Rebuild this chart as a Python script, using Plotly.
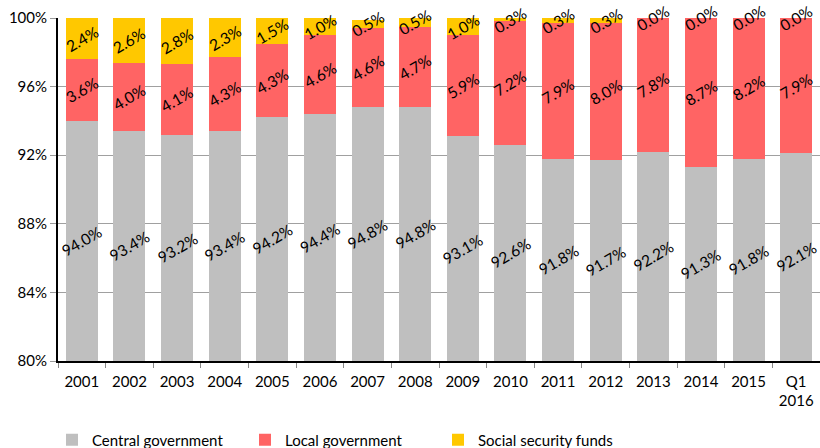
import plotly.graph_objects as go

# Shares of general government debt by sub-sector (%)
years = ["2001", "2002", "2003", "2004", "2005", "2006", "2007", "2008",
         "2009", "2010", "2011", "2012", "2013", "2014", "2015", "Q1<br>2016"]
central = [94.0, 93.4, 93.2, 93.4, 94.2, 94.4, 94.8, 94.8,
           93.1, 92.6, 91.8, 91.7, 92.2, 91.3, 91.8, 92.1]
local = [3.6, 4.0, 4.1, 4.3, 4.3, 4.6, 4.6, 4.7,
         5.9, 7.2, 7.9, 8.0, 7.8, 8.7, 8.2, 7.9]
social = [2.4, 2.6, 2.8, 2.3, 1.5, 1.0, 0.5, 0.5,
          1.0, 0.3, 0.3, 0.3, 0.0, 0.0, 0.0, 0.0]

y_min, y_max = 80, 100
FONT = "Lato, Carlito, Calibri, sans-serif"

series = [
    ("Central government", central, "#BFBFBF"),
    ("Local government", local, "#FF6464"),
    ("Social security funds", social, "#FFC800"),
]

fig = go.Figure()
for name, vals, color in series:
    fig.add_trace(go.Bar(
        x=years, y=vals, name=name,
        marker=dict(color=color, line=dict(width=0)),
    ))

# Rotated value labels centred on the visible part of each segment
# (category positions given by index so year-like names stay categorical)
annotations = []
for i in range(len(years)):
    bottom = 0.0
    for name, vals, color in series:
        v = vals[i]
        top = bottom + v
        lo = max(bottom, y_min)
        hi = min(top, y_max) if v > 0 else top
        mid = (lo + hi) / 2
        annotations.append(dict(
            x=i, y=mid, xref="x", yref="y",
            text=f"{v:.1f}%", showarrow=False, textangle=-30,
            font=dict(family=FONT, size=15.5, color="#000000"),
        ))
        bottom = top

fig.update_layout(
    barmode="stack",
    bargap=0.33,
    width=820, height=448,
    margin=dict(l=58, r=0, t=18, b=87, autoexpand=False),
    paper_bgcolor="white", plot_bgcolor="white",
    font=dict(family=FONT, size=15, color="#000000"),
    annotations=annotations,
    showlegend=True,
    legend=dict(
        orientation="h", traceorder="normal",
        xref="container", x=52 / 820, xanchor="left",
        yref="container", y=8 / 448, yanchor="middle",
        entrywidth=148, font=dict(family=FONT, size=15, color="#000000"),
        bgcolor="rgba(0,0,0,0)",
    ),
    xaxis=dict(
        type="category", range=[-0.5, len(years) - 0.5],
        tickson="boundaries", ticks="outside", ticklen=5,
        tickcolor="#888888", showline=True, linecolor="#000000", linewidth=1.5,
        showgrid=False, tickangle=0, ticklabelstandoff=6,
        tickfont=dict(family=FONT, size=15, color="#000000"),
    ),
    yaxis=dict(
        range=[y_min, y_max], dtick=4, tick0=80, ticksuffix="%",
        ticks="outside", ticklen=6, tickcolor="#999999",
        showline=True, linecolor="#000000", linewidth=2,
        showgrid=True, gridcolor="#A0A0A0", gridwidth=1.2, zeroline=False,
        tickfont=dict(family=FONT, size=15, color="#000000"),
    ),
)

fig.write_html("out.html")
